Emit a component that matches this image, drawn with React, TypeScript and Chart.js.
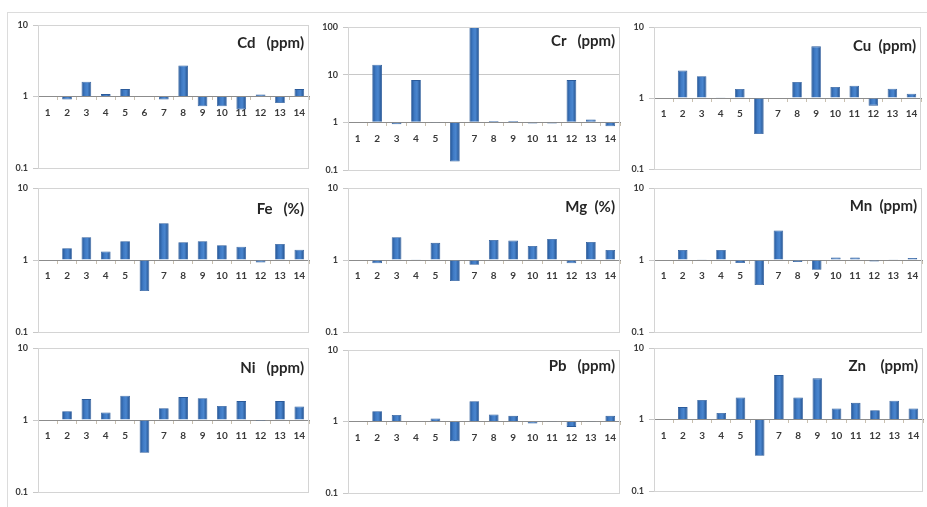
import React, { useEffect, useRef } from "react";
import { Chart, registerables } from "chart.js";

Chart.register(...registerables);

const categories = ["1", "2", "3", "4", "5", "6", "7", "8", "9", "10", "11", "12", "13", "14"];

const cdValues = [1, 0.91, 1.61, 1.08, 1.27, 1, 0.91, 2.72, 0.73, 0.73, 0.66, 1.07, 0.81, 1.27];
const crValues = [1, 16.1, 0.91, 7.7, 0.97, 0.15, 100, 1.07, 1.07, 0.95, 0.95, 7.7, 1.15, 0.83];
const cuValues = [1, 2.43, 2.02, 1.01, 1.34, 0.31, 1, 1.68, 5.34, 1.43, 1.49, 0.78, 1.35, 1.15];
const feValues = [1, 1.46, 2.07, 1.31, 1.82, 0.37, 3.25, 1.76, 1.82, 1.6, 1.53, 0.92, 1.67, 1.39];
const mgValues = [1, 0.9, 2.07, 1.01, 1.73, 0.51, 0.86, 1.9, 1.86, 1.57, 1.96, 0.9, 1.78, 1.38];
const mnValues = [1, 1.38, 1.01, 1.38, 0.91, 0.45, 2.57, 0.94, 0.73, 1.08, 1.08, 0.95, 1.01, 1.07];
const niValues = [1, 1.32, 1.95, 1.27, 2.17, 0.35, 1.46, 2.08, 2.01, 1.57, 1.83, 0.97, 1.83, 1.54];
const pbValues = [1, 1.39, 1.23, 1.02, 1.1, 0.53, 1.92, 1.25, 1.2, 0.94, 0.99, 0.84, 0.99, 1.2];
const znValues = [1, 1.49, 1.87, 1.23, 2.03, 0.31, 4.18, 2.03, 3.76, 1.43, 1.71, 1.35, 1.83, 1.43];

const yTicks = [0.1, 1, 10];
const crYTicks = [0.1, 1, 10, 100];

const titles = ["Cd   (ppm)", "Cr   (ppm)", "Cu  (ppm)", "Fe   (%)", "Mg  (%)", "Mn  (ppm)", "Ni   (ppm)", "Pb   (ppm)", "Zn    (ppm)"];
const seriesList = [cdValues, crValues, cuValues, feValues, mgValues, mnValues, niValues, pbValues, znValues];
const tickList = [yTicks, crYTicks, yTicks, yTicks, yTicks, yTicks, yTicks, yTicks, yTicks];

// layout: plot area boxes [left, top, right, bottom], title offset from top
const boxes = [
  [38, 25, 309, 168, 18],
  [348, 27, 620, 170, 14],
  [654, 27, 921, 169, 19],
  [38, 188, 309, 332, 21],
  [348, 188, 620, 332, 19],
  [654, 188, 922, 332, 18],
  [38, 348, 309, 492, 20],
  [348, 350, 620, 493, 16],
  [654, 348, 923, 491, 18],
];

const AXIS_W = 38;
const PAD_T = 12;
const PAD_B = 12;
const PAD_R = 8;
const BAR_PCT = 0.5;
const FONT = "Lato, 'Liberation Sans', sans-serif";

function barFill(c: any) {
  const chart = c.chart;
  const xs = chart.scales && chart.scales.x;
  if (!xs || c.dataIndex === undefined) return "#3a70b9";
  const cx = xs.getPixelForValue(c.dataIndex);
  const half = ((xs.right - xs.left) / categories.length) * BAR_PCT / 2;
  if (!isFinite(cx) || !isFinite(half) || half <= 0) return "#3a70b9";
  const g = chart.ctx.createLinearGradient(cx - half, 0, cx + half, 0);
  g.addColorStop(0, "#245493");
  g.addColorStop(0.35, "#3f7ac4");
  g.addColorStop(0.6, "#4a86cf");
  g.addColorStop(1, "#23508c");
  return g;
}

function Panel({ idx }: { idx: number }) {
  const ref = useRef<HTMLCanvasElement | null>(null);
  const [l, t, r, b, tdy] = boxes[idx];
  const w = r - l + AXIS_W + PAD_R;
  const h = b - t + PAD_T + PAD_B;
  useEffect(() => {
    if (!ref.current) return;
    const ticks = tickList[idx];
    const title = titles[idx];
    const framePlugin = {
      id: "frame" + idx,
      afterDatasetsDraw(chart: any) {
        const { ctx, chartArea } = chart;
        ctx.save();
        ctx.strokeStyle = "#d4d4d4";
        ctx.lineWidth = 1;
        ctx.strokeRect(chartArea.left + 0.5, chartArea.top + 0.5, chartArea.right - chartArea.left - 1, chartArea.bottom - chartArea.top);
        ctx.restore();
      },
      afterDraw(chart: any) {
        const { ctx, chartArea } = chart;
        ctx.save();
        ctx.font = "bold 15px " + FONT;
        ctx.fillStyle = "#262626";
        ctx.textAlign = "right";
        ctx.textBaseline = "middle";
        ctx.fillText(title, chartArea.right - 5, chartArea.top + tdy);
        ctx.restore();
      },
    };
    const chart = new Chart(ref.current, {
      type: "bar",
      data: {
        labels: categories,
        datasets: [
          {
            data: seriesList[idx],
            base: 1,
            backgroundColor: barFill,
            borderColor: "#2b5b9b",
            borderWidth: 0.8,
            barPercentage: BAR_PCT,
            categoryPercentage: 1,
          } as any,
        ],
      },
      options: {
        animation: false,
        responsive: false,
        maintainAspectRatio: false,
        layout: { padding: { top: PAD_T, bottom: PAD_B, right: PAD_R, left: 0 } },
        plugins: { legend: { display: false }, tooltip: { enabled: false }, title: { display: false } },
        scales: {
          x: {
            type: "category",
            position: { y: 1 } as any,
            z: 1,
            offset: true,
            grid: { drawOnChartArea: false, drawTicks: true, tickLength: 3, color: "#c9c0b0", offset: true },
            border: { display: true, color: "#8c8c8c", width: 1 },
            ticks: {
              color: "#3a3a3a",
              font: { family: FONT, size: 10, weight: "bold" },
              padding: 7,
              maxRotation: 0,
              autoSkip: false,
            },
          },
          y: {
            type: "logarithmic",
            min: ticks[0],
            max: ticks[ticks.length - 1],
            afterBuildTicks: (scale: any) => {
              scale.ticks = ticks.map((v) => ({ value: v }));
            },
            afterFit: (scale: any) => {
              scale.width = AXIS_W;
            },
            grid: { color: "#c8c8c8", tickLength: 5, drawTicks: true },
            border: { display: true, color: "#c8c8c8" },
            ticks: {
              color: "#3a3a3a",
              font: { family: FONT, size: 9, weight: "bold" },
              padding: 5,
              callback: (v: any) => String(Number(v)),
            },
          },
        },
      } as any,
      plugins: [framePlugin],
    });
    return () => chart.destroy();
  }, [idx]);
  return (
    <canvas
      ref={ref}
      width={w}
      height={h}
      style={{ position: "absolute", left: l - AXIS_W, top: t - PAD_T, width: w, height: h }}
    />
  );
}

export default function App() {
  return (
    <div style={{ position: "absolute", left: 0, top: 0, width: 927, height: 507, background: "#ffffff", overflow: "hidden" }}>
      <div style={{ position: "absolute", left: 7, top: 12, width: 930, height: 510, borderTop: "1px solid #dcdcdc", borderLeft: "1px solid #dcdcdc" }} />
      {boxes.map((_, i) => (
        <Panel key={i} idx={i} />
      ))}
    </div>
  );
}
